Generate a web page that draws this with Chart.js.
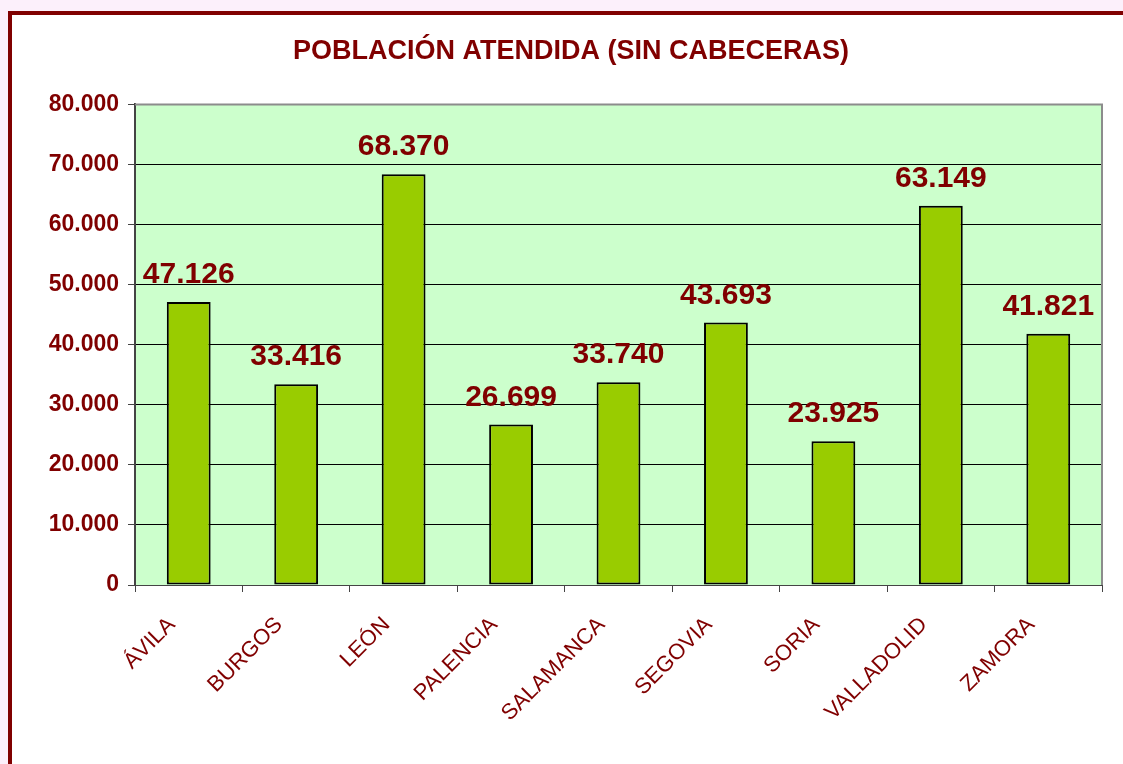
<!DOCTYPE html>
<html>
<head>
<meta charset="utf-8">
<script src="https://cdn.jsdelivr.net/npm/chart.js@4/dist/chart.umd.min.js"></script>
<style>
  html, body { margin: 0; padding: 0; width: 1123px; height: 764px; overflow: hidden;
    background: #fcf0fb; font-family: "Liberation Sans", Arial, sans-serif; }
  #frame { position: absolute; left: 8px; top: 11px; width: 1200px; height: 800px;
    border: 4px solid #800000; background: #ffffff; }
  #wrap { position: absolute; left: 0; top: 0; width: 1123px; height: 764px; }
</style>
</head>
<body>
<div id="frame"></div>
<div id="wrap"><canvas id="c" width="1123" height="764"></canvas></div>
<script>
const categories = ["ÁVILA", "BURGOS", "LEÓN", "PALENCIA", "SALAMANCA", "SEGOVIA", "SORIA", "VALLADOLID", "ZAMORA"];
const poblacion = [47126, 33416, 68370, 26699, 33740, 43693, 23925, 63149, 41821];
const yTicks = [0, 10000, 20000, 30000, 40000, 50000, 60000, 70000, 80000];
const titleText = "POBLACIÓN ATENDIDA (SIN CABECERAS)";

const DARK_RED = "#800000";
const FONT = "'Liberation Sans', Arial, sans-serif";
function fmt(v) { return String(Math.round(v)).replace(/\B(?=(\d{3})+(?!\d))/g, "."); }

const plotBg = {
  id: "plotBg",
  beforeDraw(chart) {
    const { ctx, chartArea: a } = chart;
    ctx.save();
    ctx.fillStyle = "#ccffcc";
    ctx.fillRect(a.left, a.top, a.right - a.left, a.bottom - a.top);
    ctx.restore();
  },
  afterDatasetsDraw(chart) {
    const { ctx, chartArea: a } = chart;
    ctx.save();
    ctx.strokeStyle = "#8c8c8c";
    ctx.lineWidth = 2;
    ctx.beginPath();
    ctx.moveTo(a.left, a.top);
    ctx.lineTo(a.right, a.top);
    ctx.lineTo(a.right, a.bottom);
    ctx.stroke();
    // data labels
    const meta = chart.getDatasetMeta(0);
    ctx.fillStyle = DARK_RED;
    ctx.font = "bold 30px " + FONT;
    ctx.textAlign = "center";
    ctx.textBaseline = "alphabetic";
    meta.data.forEach((bar, i) => {
      ctx.fillText(fmt(poblacion[i]), bar.x, bar.y - 19);
    });
    ctx.restore();
  }
};

new Chart(document.getElementById("c"), {
  type: "bar",
  data: {
    labels: categories,
    datasets: [{
      data: poblacion,
      backgroundColor: "#99cc00",
      borderColor: "#000000",
      borderWidth: 2,
      borderSkipped: false,
      categoryPercentage: 0.8,
      barPercentage: 0.51
    }]
  },
  plugins: [plotBg],
  options: {
    responsive: false,
    animation: false,
    layout: { padding: { left: 40, right: 21, top: 0, bottom: 0 } },
    plugins: {
      legend: { display: false },
      tooltip: { enabled: false },
      title: {
        display: true,
        text: titleText,
        color: DARK_RED,
        font: { family: FONT, size: 27, weight: "bold", lineHeight: 1.2 },
        padding: { top: 35, bottom: 37 }
      }
    },
    scales: {
      x: {
        grid: { display: true, offset: true, drawOnChartArea: false, drawTicks: true, tickLength: 7, color: "#444444", lineWidth: 1 },
        border: { display: true, color: "#444444", width: 1 },
        ticks: {
          color: DARK_RED,
          font: { family: FONT, size: 22 },
          minRotation: 45, maxRotation: 45, padding: 20, labelOffset: -17, autoSkip: false
        },
        afterFit(scale) { scale.height = 179; }
      },
      y: {
        min: 0, max: 80000,
        afterBuildTicks(scale) { scale.ticks = yTicks.map(v => ({ value: v })); },
        grid: { color: "#000000", lineWidth: 1, drawTicks: true, tickLength: 7, tickColor: "#444444" },
        border: { display: true, color: "#444444", width: 2 },
        ticks: {
          color: DARK_RED,
          font: { family: FONT, size: 23, weight: "bold" },
          padding: 9,
          callback: v => fmt(v)
        },
        afterFit(scale) { scale.width = 95; }
      }
    }
  }
});
</script>
</body>
</html>
